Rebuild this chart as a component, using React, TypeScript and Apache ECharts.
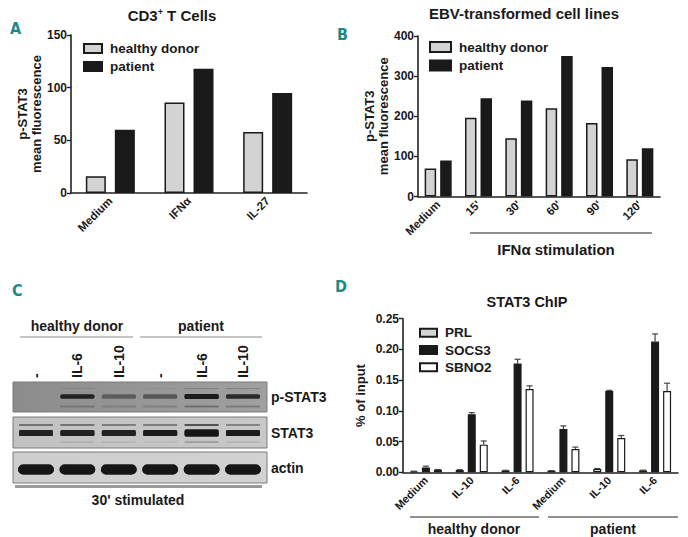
import React, { useEffect, useRef } from 'react';
import * as echarts from 'echarts';

const FONT = '"Liberation Sans", Arial, Helvetica, sans-serif';
const LETTER_FONT = '"Liberation Sans Narrow", "DejaVu Sans Condensed", "Liberation Sans", sans-serif';
const TEAL = '#1b8985';
const TEXT = '#1a1a1a';
const AXIS = '#222222';
const LIGHT = '#d3d3d3';
const DARK = '#1a1a1a';

// ---- Panel A: CD3+ T cells ----
const aCategories = ['Medium', 'IFNα', 'IL-27'];
const aHealthy = [16, 86, 58];
const aPatient = [60, 118, 95];

// ---- Panel B: EBV-transformed cell lines ----
const bCategories = ['Medium', "15'", "30'", "60'", "90'", "120'"];
const bHealthy = [70, 196, 145, 220, 183, 93];
const bPatient = [90, 245, 239, 350, 323, 120];

// ---- Panel C: western blot (relative band intensities per lane) ----
const blotLanes = ['-', 'IL-6', 'IL-10', '-', 'IL-6', 'IL-10'];
const pStat3Main = [0.0, 0.92, 0.45, 0.5, 0.97, 0.85];
const pStat3Low = [0.0, 0.25, 0.2, 0.2, 0.35, 0.28];
const pStat3High = [0.0, 0.1, 0.04, 0.06, 0.22, 0.22];
const stat3Main = [0.92, 0.92, 0.92, 0.95, 1.0, 0.97];
const stat3Upper = [0.5, 0.5, 0.45, 0.45, 0.7, 0.4];
const stat3Low = [0.04, 0.15, 0.12, 0.08, 0.28, 0.12];
const actinMain = [1, 1, 1, 1, 1, 1];

// ---- Panel D: STAT3 ChIP ----
const dCategories = ['Medium', 'IL-10', 'IL-6', 'Medium', 'IL-10', 'IL-6'];
const dPRL = [0.0015, 0.0037, 0.003, 0.0025, 0.0055, 0.003];
const dPRLErr = [0.0003, 0.0006, 0.0003, 0.0003, 0.0006, 0.0005];
const dSOCS3 = [0.008, 0.0945, 0.177, 0.0705, 0.1324, 0.2127];
const dSOCS3Err = [0.002, 0.0026, 0.007, 0.005, 0.001, 0.0125];
const dSBNO2 = [0.004, 0.045, 0.1357, 0.038, 0.0559, 0.1324];
const dSBNO2Err = [0.0005, 0.006, 0.005, 0.003, 0.004, 0.0126];

const D_BAR_W = 8;
const D_BAR_GAP = 4;

function xAxisCfg(gridIndex: number, data: string[], fontSize: number) {
  return {
    type: 'category',
    gridIndex,
    data,
    axisLine: { lineStyle: { color: AXIS, width: 1.6 } },
    axisTick: { alignWithLabel: true, length: 4, lineStyle: { color: AXIS, width: 1.4 } },
    axisLabel: {
      rotate: 45,
      interval: 0,
      color: TEXT,
      fontWeight: 'bold',
      fontSize,
      margin: 6,
      fontFamily: FONT,
    },
    splitLine: { show: false },
  };
}

function yAxisCfg(
  gridIndex: number,
  max: number,
  interval: number,
  name: string,
  nameGap: number,
  digits: number,
) {
  return {
    type: 'value',
    gridIndex,
    min: 0,
    max,
    interval,
    axisLine: { show: true, lineStyle: { color: AXIS, width: 1.6 } },
    axisTick: { show: true, length: 4, lineStyle: { color: AXIS, width: 1.4 } },
    axisLabel: {
      color: TEXT,
      fontWeight: 'bold',
      fontSize: 12,
      margin: 4,
      fontFamily: FONT,
      formatter: (v: number) => v.toFixed(digits),
    },
    splitLine: { show: false },
    name,
    nameLocation: 'middle',
    nameRotate: 90,
    nameGap,
    nameTextStyle: {
      color: TEXT,
      fontWeight: 'bold',
      fontSize: 13,
      lineHeight: 14,
      fontFamily: FONT,
    },
  };
}

function legendCfg(
  data: string[],
  left: number,
  top: number,
  w: number,
  h: number,
  gap: number,
  fontSize: number,
) {
  return {
    data,
    orient: 'vertical',
    left,
    top,
    padding: 0,
    itemWidth: w,
    itemHeight: h,
    itemGap: gap,
    icon: 'rect',
    selectedMode: false,
    textStyle: {
      color: TEXT,
      fontWeight: 'bold',
      fontSize,
      lineHeight: 14,
      fontFamily: FONT,
      padding: [0, 0, 0, 3],
    },
  };
}

function errorSeries(values: number[], errs: number[], idx: number) {
  const offset = (idx - 1) * (D_BAR_W + D_BAR_GAP);
  return {
    type: 'custom',
    xAxisIndex: 2,
    yAxisIndex: 2,
    z: 3,
    encode: { x: 0, y: 1 },
    data: values.map((v, i) => [i, v, errs[i]]),
    renderItem: (_params: any, api: any) => {
      const c = api.value(0);
      const v = api.value(1);
      const e = api.value(2);
      const p0 = api.coord([c, v]);
      const p1 = api.coord([c, v + e]);
      const x = p0[0] + offset;
      const st = { stroke: '#444', lineWidth: 1.2 };
      return {
        type: 'group',
        children: [
          { type: 'line', shape: { x1: x, y1: p0[1], x2: x, y2: p1[1] }, style: st },
          { type: 'line', shape: { x1: x - 3, y1: p1[1], x2: x + 3, y2: p1[1] }, style: st },
        ],
      };
    },
  };
}

function gray(bg: number, t: number) {
  const v = Math.round(bg - (bg - 22) * t);
  return `rgb(${v},${v},${v})`;
}

function buildBlot(): any[] {
  const els: any[] = [];
  const x0 = 13;
  const x1 = 267;
  const laneX = (i: number) => 36 + i * 41.4;
  const bandW = 34;
  const rows = [
    { y: 382, h: 30, bgA: 140, bgB: 160, label: 'p-STAT3' },
    { y: 417, h: 31, bgA: 194, bgB: 200, label: 'STAT3' },
    { y: 452, h: 31, bgA: 206, bgB: 210, label: 'actin' },
  ];
  rows.forEach((r) => {
    els.push({
      type: 'rect',
      shape: { x: x0, y: r.y, width: x1 - x0, height: r.h },
      style: {
        fill: new echarts.graphic.LinearGradient(0, 0, 1, 0, [
          { offset: 0, color: `rgb(${r.bgA},${r.bgA},${r.bgA})` },
          { offset: 1, color: `rgb(${r.bgB},${r.bgB},${r.bgB})` },
        ]),
        stroke: '#7a7a7a',
        lineWidth: 1,
      },
    });
    els.push({
      type: 'text',
      x: 271,
      y: r.y + r.h / 2,
      style: {
        text: r.label,
        fontSize: 14,
        fontWeight: 'bold',
        fontFamily: FONT,
        fill: TEXT,
        align: 'left',
        verticalAlign: 'middle',
        textAlign: 'left',
        textVerticalAlign: 'middle',
      },
    });
  });
  const band = (i: number, cy: number, h: number, t: number, bg: number, r = 1.5, blur = 1.5, wScale = 1) => {
    if (t <= 0) return;
    const w = bandW * wScale;
    const c = gray(bg, t);
    els.push({
      type: 'rect',
      shape: { x: laneX(i) - w / 2, y: cy - h / 2, width: w, height: h, r },
      style: { fill: c, shadowBlur: blur, shadowColor: c },
    });
  };
  blotLanes.forEach((_l, i) => {
    const bg1 = 142 + i * 3.5;
    band(i, 396.5, i === 4 ? 5 : 4, pStat3Main[i], bg1);
    band(i, 406.5, 1.5, pStat3Low[i], bg1, 0.5, 1);
    band(i, 388.5, 1.2, pStat3High[i], bg1, 0.5, 1);
    band(i, 433, i === 4 ? 7 : 6, stat3Main[i], 198);
    band(i, 425, 1.5, stat3Upper[i], 198, 0.5, 1);
    band(i, 442, 1.2, stat3Low[i], 198, 0.5, 1);
    band(i, 469.5, 10, actinMain[i], 208, 5, 1.5, 1.05);
  });
  // lane labels
  blotLanes.forEach((l, i) => {
    els.push({
      type: 'text',
      x: laneX(i),
      y: 378,
      rotation: Math.PI / 2,
      style: {
        text: l,
        fontSize: 14,
        fontWeight: 'bold',
        fontFamily: FONT,
        fill: TEXT,
        align: 'left',
        verticalAlign: 'middle',
        textAlign: 'left',
        textVerticalAlign: 'middle',
      },
    });
  });
  // group headers
  const hdr = (text: string, cx: number, lx0: number, lx1: number) => {
    els.push({
      type: 'text',
      x: cx,
      y: 326,
      style: {
        text,
        fontSize: 14,
        fontWeight: 'bold',
        fontFamily: FONT,
        fill: TEXT,
        align: 'center',
        verticalAlign: 'middle',
        textAlign: 'center',
        textVerticalAlign: 'middle',
      },
    });
    els.push({
      type: 'line',
      shape: { x1: lx0, y1: 337, x2: lx1, y2: 337 },
      style: { stroke: '#8a8a8a', lineWidth: 1 },
    });
  };
  hdr('healthy donor', 77, 20, 133);
  hdr('patient', 201, 140, 262);
  els.push({
    type: 'line',
    shape: { x1: 15, y1: 486.5, x2: 262, y2: 486.5 },
    style: { stroke: '#9a9a9a', lineWidth: 3 },
  });
  els.push({
    type: 'text',
    x: 138,
    y: 500,
    style: {
      text: "30' stimulated",
      fontSize: 14,
      fontWeight: 'bold',
      fontFamily: FONT,
      fill: TEXT,
      align: 'center',
      verticalAlign: 'middle',
      textAlign: 'center',
      textVerticalAlign: 'middle',
    },
  });
  return els;
}

function txt(text: string, x: number, y: number, fontSize: number, extra: any = {}) {
  return {
    type: 'text',
    x,
    y,
    style: {
      text,
      fontSize,
      fontWeight: 'bold',
      fontFamily: FONT,
      fill: TEXT,
      align: 'center',
      verticalAlign: 'middle',
      textAlign: 'center',
      textVerticalAlign: 'middle',
      ...extra,
    },
  };
}

function letter(t: string, x: number, y: number) {
  return {
    type: 'text',
    x,
    y,
    style: {
      text: t,
      fontSize: 16,
      fontWeight: 'bold',
      fontFamily: LETTER_FONT,
      fill: TEAL,
      align: 'left',
      verticalAlign: 'middle',
      textAlign: 'left',
      textVerticalAlign: 'middle',
    },
  };
}

function hline(x1: number, x2: number, y: number) {
  return {
    type: 'line',
    shape: { x1, y1: y, x2, y2: y },
    style: { stroke: '#222', lineWidth: 1.2 },
  };
}

export default function App() {
  const ref = useRef<HTMLDivElement>(null);
  useEffect(() => {
    if (!ref.current) return;
    const chart = echarts.init(ref.current, undefined, { renderer: 'svg' });
    const option: any = {
      animation: false,
      backgroundColor: '#ffffff',
      textStyle: { fontFamily: FONT },
      grid: [
        { left: 71, top: 35, width: 236, height: 158, containLabel: false, outerBoundsMode: 'none' },
        { left: 418, top: 36, width: 242, height: 160.5, containLabel: false, outerBoundsMode: 'none' },
        { left: 403, top: 318.7, width: 275, height: 153.6, containLabel: false, outerBoundsMode: 'none' },
      ],
      xAxis: [xAxisCfg(0, aCategories, 11.5), xAxisCfg(1, bCategories, 11.5), xAxisCfg(2, dCategories, 11)],
      yAxis: [
        yAxisCfg(0, 150, 50, 'p-STAT3\nmean fluorescence', 24, 0),
        yAxisCfg(1, 400, 100, 'p-STAT3\nmean fluorescence', 28, 0),
        yAxisCfg(2, 0.25, 0.05, '% of input', 36, 2),
      ],
      legend: [
        legendCfg(['healthy donor', 'patient'], 83, 41.5, 18, 9, 4, 13.5),
        legendCfg(['healthy donor', 'patient'], 429, 40, 21, 10, 4.5, 13.5),
        legendCfg(['PRL', 'SOCS3', 'SBNO2'], 419, 325.7, 17, 8, 3.3, 13.5),
      ],
      series: [
        {
          name: 'healthy donor', type: 'bar', xAxisIndex: 0, yAxisIndex: 0, data: aHealthy,
          barWidth: 20, barGap: '45%', itemStyle: { color: LIGHT, borderColor: DARK, borderWidth: 1.5 },
        },
        {
          name: 'patient', type: 'bar', xAxisIndex: 0, yAxisIndex: 0, data: aPatient,
          barWidth: 20, barGap: '45%', itemStyle: { color: DARK, borderColor: DARK, borderWidth: 1.5 },
        },
        {
          name: 'healthy donor', type: 'bar', xAxisIndex: 1, yAxisIndex: 1, data: bHealthy,
          barWidth: 11.5, barGap: '35%', itemStyle: { color: LIGHT, borderColor: DARK, borderWidth: 1.5 },
        },
        {
          name: 'patient', type: 'bar', xAxisIndex: 1, yAxisIndex: 1, data: bPatient,
          barWidth: 11.5, barGap: '35%', itemStyle: { color: DARK, borderColor: DARK, borderWidth: 1.5 },
        },
        {
          name: 'PRL', type: 'bar', xAxisIndex: 2, yAxisIndex: 2, data: dPRL,
          barWidth: D_BAR_W, barGap: '50%', itemStyle: { color: LIGHT, borderColor: DARK, borderWidth: 1.2 },
        },
        {
          name: 'SOCS3', type: 'bar', xAxisIndex: 2, yAxisIndex: 2, data: dSOCS3,
          barWidth: D_BAR_W, barGap: '50%', itemStyle: { color: DARK, borderColor: DARK, borderWidth: 1.2 },
        },
        {
          name: 'SBNO2', type: 'bar', xAxisIndex: 2, yAxisIndex: 2, data: dSBNO2,
          barWidth: D_BAR_W, barGap: '50%', itemStyle: { color: '#ffffff', borderColor: DARK, borderWidth: 1.2 },
        },
        errorSeries(dPRL, dPRLErr, 0),
        errorSeries(dSOCS3, dSOCS3Err, 1),
        errorSeries(dSBNO2, dSBNO2Err, 2),
      ],
      graphic: [
        letter('A', 10, 28),
        letter('B', 337, 34),
        letter('C', 12, 290),
        letter('D', 335, 286),
        txt('CD3{sup|+} T Cells', 172, 15, 15, {
          rich: {
            sup: { fontSize: 9, fontWeight: 'bold', fill: TEXT, padding: [0, 0, 7, 0], fontFamily: FONT },
          },
        }),
        txt('EBV-transformed cell lines', 524, 13, 15),
        txt('STAT3 ChIP', 527, 302, 14.5),
        hline(470, 652, 233),
        txt('IFNα stimulation', 556, 249, 15),
        hline(410, 539, 517),
        hline(548, 678, 517),
        txt('healthy donor', 474, 529, 14),
        txt('patient', 613, 529, 14),
        ...buildBlot(),
      ],
    };
    chart.setOption(option);
    return () => chart.dispose();
  }, []);
  return (
    <div
      ref={ref}
      style={{ position: 'absolute', left: 0, top: 0, width: 688, height: 537, background: '#fff' }}
    />
  );
}
